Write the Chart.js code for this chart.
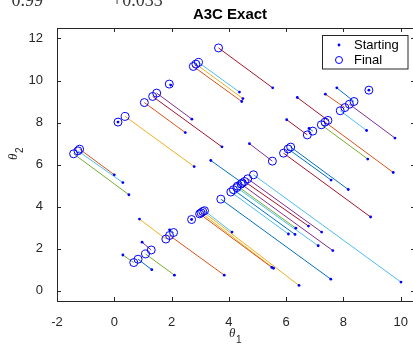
<!DOCTYPE html>
<html>
<head>
<meta charset="utf-8">
<script src="https://cdn.jsdelivr.net/npm/chart.js@4.4.1/dist/chart.umd.min.js"></script>
<style>
  html, body { margin: 0; padding: 0; background: #fff; overflow: hidden; }
  #wrap { width: 420px; height: 345px; }
</style>
</head>
<body>
<div id="wrap"><canvas id="Chart" width="420" height="345"></canvas></div>
<script>
// one entry per run: starting point -> final point
const startX = [0.51, 0.00, 0.30, 0.13, 2.79, 2.48, 3.76, 2.71, 1.97, 4.37, 4.49, 4.45, 5.53,
    0.88, 3.84, 1.93, 2.70, 0.97, 2.10, 1.31, 0.30,
    4.11, 5.50, 5.56, 6.45,
    6.08, 6.31, 6.34, 6.78, 7.24, 7.12, 7.63, 7.56, 10.01,
    3.37, 4.72, 8.95, 7.57, 8.17, 6.02, 6.80, 6.39,
    7.37, 9.74, 8.85, 8.81, 9.80, 7.77, 8.89];
const startY = [4.56, 5.51, 5.14, 8.02, 5.90, 7.52, 6.84, 8.16, 9.78, 9.45, 9.14, 9.00, 9.65,
    3.40, 0.73, 2.89, 3.38, 2.30, 0.73, 0.99, 1.69,
    2.78, 1.10, 1.06, 0.24,
    2.69, 2.67, 2.97, 3.07, 2.78, 2.13, 1.90, 0.54, 0.40,
    6.19, 6.99, 3.50, 5.26, 4.81, 8.13, 7.72, 9.19,
    9.35, 5.62, 6.26, 7.62, 7.26, 9.65, 9.54];
const finalX = [-1.42, -1.21, -1.27, 0.13, 0.38, 1.05, 1.34, 1.48, 1.92, 2.94, 2.85, 2.76, 3.64,
    1.80, 1.93, 2.07, 2.70, 1.29, 1.09, 0.83, 0.68,
    3.15, 2.98, 3.03, 3.09,
    4.07, 4.16, 4.30, 4.55, 4.66, 4.28, 4.43, 3.72, 4.86,
    4.47, 5.52, 5.91, 6.07, 6.16, 6.74, 6.93, 7.46,
    8.05, 7.36, 7.23, 7.89, 8.21, 8.37, 8.89];
const finalY = [6.51, 6.73, 6.65, 8.02, 8.29, 8.95, 9.24, 9.40, 9.83, 10.86, 10.78, 10.67, 11.55,
    2.45, 2.62, 2.76, 3.38, 1.93, 1.74, 1.49, 1.33,
    3.80, 3.65, 3.70, 3.76,
    4.69, 4.80, 4.97, 5.19, 5.32, 4.90, 5.07, 4.35, 5.51,
    5.12, 6.16, 6.54, 6.74, 6.83, 7.41, 7.59, 8.10,
    8.71, 8.02, 7.89, 8.56, 8.87, 9.00, 9.54];
// colour of each run's line (index into matlab colour order)
const runColor = [4, 1, 5, 0, 2, 1, 6, 3, 0, 5, 2, 1, 6,
    2, 1, 0, 0, 3, 4, 0, 4,
    5, 1, 2, 2,
    5, 0, 4, 6, 3, 5, 3, 0, 5,
    0, 3, 6, 0, 0, 6, 0, 6,
    1, 1, 4, 5, 3, 0, 0];

const xTicks = [-2, 0, 2, 4, 6, 8, 10];
const yTicks = [0, 2, 4, 6, 8, 10, 12];
const legendLabels = ['Starting', 'Final'];

const colorOrder = ['#0072BD', '#D95319', '#EDB120', '#7E2F8E', '#77AC30', '#4DBEEE', '#A2142F'];
const axisColor = '#262626';
const sans = '"Liberation Sans", Arial, sans-serif';

const datasets = [
    {
        label: legendLabels[0],
        data: startX.map((x, i) => ({x: x, y: startY[i]})),
        pointRadius: 1.4,
        pointBackgroundColor: '#0000FF',
        pointBorderWidth: 0,
        showLine: false,
        order: 0
    },
    {
        label: legendLabels[1],
        data: finalX.map((x, i) => ({x: x, y: finalY[i]})),
        pointRadius: 4,
        pointBackgroundColor: 'rgba(0,0,0,0)',
        pointBorderColor: '#0000FF',
        pointBorderWidth: 1,
        showLine: false,
        order: 0
    }
];
startX.forEach((x, i) => {
    datasets.push({
        label: 'run' + i,
        data: [{x: x, y: startY[i]}, {x: finalX[i], y: finalY[i]}],
        showLine: true,
        borderColor: colorOrder[runColor[i]],
        borderWidth: 1,
        pointRadius: 0,
        order: 1
    });
});

const matlabAxes = {
    id: 'matlabAxes',
    afterDraw(chart) {
        const c = chart.ctx;
        const a = chart.chartArea;
        const xs = chart.scales.x, ys = chart.scales.y;
        c.save();

        // box and inward ticks
        c.strokeStyle = axisColor;
        c.lineWidth = 1;
        c.strokeRect(Math.round(a.left) + 0.5, Math.round(a.top) + 0.5,
            Math.round(a.right - a.left), Math.round(a.bottom - a.top));
        c.beginPath();
        xTicks.forEach(v => {
            const p = Math.round(xs.getPixelForValue(v)) + 0.5;
            c.moveTo(p, a.bottom); c.lineTo(p, a.bottom - 4);
            c.moveTo(p, a.top); c.lineTo(p, a.top + 4);
        });
        yTicks.forEach(v => {
            const p = Math.round(ys.getPixelForValue(v)) + 0.5;
            c.moveTo(a.left, p); c.lineTo(a.left + 4, p);
            c.moveTo(a.right, p); c.lineTo(a.right - 4, p);
        });
        c.stroke();

        // title
        c.fillStyle = '#000';
        c.font = 'bold 15px ' + sans;
        c.textAlign = 'center';
        c.textBaseline = 'middle';
        c.fillText('A3C Exact', 230, 15);

        // cut-off text of the panel above
        c.fillStyle = '#333';
        c.font = '18px "Liberation Serif", serif';
        c.textBaseline = 'alphabetic';
        c.textAlign = 'right';
        c.fillText('0.99', 43, 6);
        c.textAlign = 'left';
        c.fillText('+0.033', 112, 6);

        // axis labels
        c.fillStyle = axisColor;
        c.font = 'italic 13px "Liberation Serif", serif';
        c.textAlign = 'left';
        c.fillText('\u03B8', 229, 337);
        c.font = '10px ' + sans;
        c.fillText('1', 236, 343);

        c.save();
        c.translate(17, 160);
        c.rotate(-Math.PI / 2);
        c.font = 'italic 13px "Liberation Serif", serif';
        c.fillText('\u03B8', 0, 0);
        c.font = '10px ' + sans;
        c.fillText('2', 7, 6);
        c.restore();

        // legend
        c.fillStyle = '#fff';
        c.fillRect(322.5, 35.5, 85.5, 33.5);
        c.strokeStyle = axisColor;
        c.strokeRect(322.5, 35.5, 85.5, 33.5);
        c.fillStyle = '#0000FF';
        c.beginPath();
        c.arc(339, 45, 1.4, 0, Math.PI * 2);
        c.fill();
        c.strokeStyle = '#0000FF';
        c.beginPath();
        c.arc(339, 60, 3.5, 0, Math.PI * 2);
        c.stroke();
        c.fillStyle = '#000';
        c.font = '13px ' + sans;
        c.textBaseline = 'middle';
        c.fillText(legendLabels[0], 354, 45);
        c.fillText(legendLabels[1], 354, 60);
        c.restore();
    }
};

new Chart(document.getElementById('Chart'), {
    type: 'scatter',
    data: {datasets: datasets},
    options: {
        responsive: false,
        animation: false,
        layout: {padding: {left: 0, top: 28, right: 4, bottom: 0}},
        plugins: {
            legend: {display: false},
            tooltip: {enabled: false}
        },
        scales: {
            x: {
                type: 'linear',
                min: -2,
                max: 10.5,
                afterBuildTicks: s => { s.ticks = xTicks.map(v => ({value: v})); },
                afterFit: s => { s.height = 44; },
                grid: {display: false},
                border: {display: false},
                ticks: {color: axisColor, font: {family: sans, size: 13}, padding: 6, maxRotation: 0}
            },
            y: {
                type: 'linear',
                min: -0.5,
                max: 12.5,
                afterBuildTicks: s => { s.ticks = yTicks.map(v => ({value: v})); },
                afterFit: s => { s.width = 57; },
                grid: {display: false},
                border: {display: false},
                ticks: {color: axisColor, font: {family: sans, size: 13}, padding: 6}
            }
        }
    },
    plugins: [matlabAxes]
});
</script>
</body>
</html>
